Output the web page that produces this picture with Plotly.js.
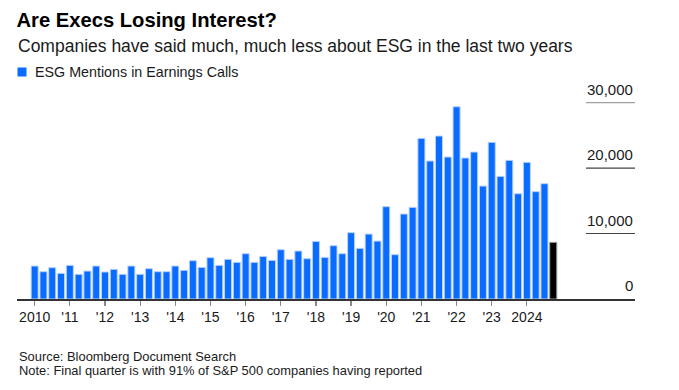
<!DOCTYPE html>
<html>
<head>
<meta charset="utf-8">
<script src="https://cdn.plot.ly/plotly-3.0.1.min.js"></script>
<style>
html,body{margin:0;padding:0;background:#fff;}
#chart{width:679px;height:390px;}
</style>
</head>
<body>
<div id="chart"></div>
<script>
// ---- data ----
var years = [2010,2011,2012,2013,2014,2015,2016,2017,2018,2019,2020,2021,2022,2023,2024];
var quarters = ["Q1","Q2","Q3","Q4"];
var mentions = [
  5040, 4170, 4780, 3920,
  5140, 3770, 4270, 5040,
  4120, 4530, 3770, 5040,
  3770, 4630, 4170, 4170,
  5040, 4380, 5850, 4830,
  6310, 5140, 6060, 5600,
  6920, 5600, 6510, 5900,
  7530, 6060, 7330, 6160,
  8800, 6360, 8140, 6920,
  10130, 7740, 9920, 8850,
  14100, 6770, 12980, 14000,
  24530, 21070, 24890, 21680,
  29360, 21530, 22440, 17250,
  23920, 18730, 21170, 16080,
  20870, 16390, 17610, 8650
];
var xTickText = ["2010","'11","'12","'13","'14","'15","'16","'17","'18","'19","'20","'21","'22","'23","2024"];
var yTickVals = [0, 10000, 20000, 30000];
var yTickText = ["0", "10,000", "20,000", "30,000"];
var seriesName = "ESG Mentions in Earnings Calls";
var titleText = "Are Execs Losing Interest?";
var subtitleText = "Companies have said much, much less about ESG in the last two years";
var sourceText = "Source: Bloomberg Document Search";
var noteText = "Note: Final quarter is with 91% of S&P 500 companies having reported";

// ---- build ----
var cats = [];
years.forEach(function(y){ quarters.forEach(function(q){ cats.push(y + " " + q); }); });
var BLUE = "#0a6cff", PARTIAL = "#000000";
var colors = mentions.map(function(v, i){ return i === mentions.length - 1 ? PARTIAL : BLUE; });
var lineColors = mentions.map(function(v, i){ return i === mentions.length - 1 ? "#9a9a9a" : "#b9d2ff"; });
var tickVals = years.map(function(y){ return y + " Q1"; });

var FONT = "Liberation Sans, Arial, Helvetica, sans-serif";
var L = 17, R = 44, T = 96, B = 91;
var W = 679, H = 390;
var plotH = H - T - B, plotW = W - L - R;
function py(p){ return (H - B - p) / plotH; }   // pixel y -> paper y
function px(p){ return (p - L) / plotW; }       // pixel x -> paper x

var trace = {
  type: "bar",
  x: cats,
  y: mentions,
  name: seriesName,
  marker: {color: colors, line: {color: lineColors, width: 1}},
  hoverinfo: "x+y",
  showlegend: false
};

var shapes = [];
var annotations = [];
yTickVals.forEach(function(v, i){
  if (v !== 0) {
    shapes.push({type: "line", xref: "paper", yref: "y", x0: px(586), x1: 1, y0: v, y1: v,
      line: {color: v === 30000 ? "#a0a0a0" : "#444444", width: 1.2}});
  }
  annotations.push({xref: "paper", yref: "y", x: 1, y: v, xanchor: "right", yanchor: "bottom",
    yshift: 3, text: yTickText[i], showarrow: false,
    font: {family: FONT, size: 15, color: "#1a1a1a"}});
});
// legend swatch + label
shapes.push({type: "rect", xref: "paper", yref: "paper", x0: px(17.5), x1: px(26.5), y0: py(76.5), y1: py(67.5),
  fillcolor: BLUE, line: {width: 0}});
annotations.push({xref: "paper", yref: "paper", x: px(33), y: py(72), xanchor: "left", yanchor: "middle",
  text: seriesName, showarrow: false, font: {family: FONT, size: 14.3, color: "#1a1a1a"}});
// subtitle
annotations.push({xref: "paper", yref: "paper", x: px(16), y: py(45.5), xanchor: "left", yanchor: "middle",
  text: subtitleText, showarrow: false, font: {family: FONT, size: 17.5, color: "#1a1a1a"}});
// source + note
annotations.push({xref: "paper", yref: "paper", x: px(17), y: py(356), xanchor: "left", yanchor: "middle",
  text: sourceText, showarrow: false, font: {family: FONT, size: 12.9, color: "#1a1a1a"}});
annotations.push({xref: "paper", yref: "paper", x: px(17), y: py(370.5), xanchor: "left", yanchor: "middle",
  text: noteText, showarrow: false, font: {family: FONT, size: 12.9, color: "#1a1a1a"}});

var layout = {
  width: W, height: H,
  margin: {l: L, r: R, t: T, b: B, pad: 0},
  paper_bgcolor: "#ffffff", plot_bgcolor: "#ffffff",
  font: {family: FONT, color: "#1a1a1a"},
  title: {text: "<b>" + titleText + "</b>", x: 16.5 / W, xref: "container", xanchor: "left",
    y: 1 - 19.5 / H, yref: "container", yanchor: "middle",
    font: {family: FONT, size: 20.2, color: "#000000"}},
  bargap: 0.2,
  xaxis: {
    type: "category",
    range: [-2.01, 68.3],
    tickmode: "array", tickvals: tickVals, ticktext: xTickText,
    ticks: "outside", ticklen: 5, tickcolor: "#888888", tickwidth: 1.2,
    showline: true, linecolor: "#333333", linewidth: 1.5,
    showgrid: false, zeroline: false,
    tickfont: {family: FONT, size: 14, color: "#1a1a1a"},
    fixedrange: true
  },
  yaxis: {
    range: [0, 31000],
    showgrid: false, zeroline: false, showticklabels: false, ticks: "",
    fixedrange: true
  },
  shapes: shapes,
  annotations: annotations,
  showlegend: false
};

Plotly.newPlot("chart", [trace], layout, {displayModeBar: false, staticPlot: true});
</script>
</body>
</html>
